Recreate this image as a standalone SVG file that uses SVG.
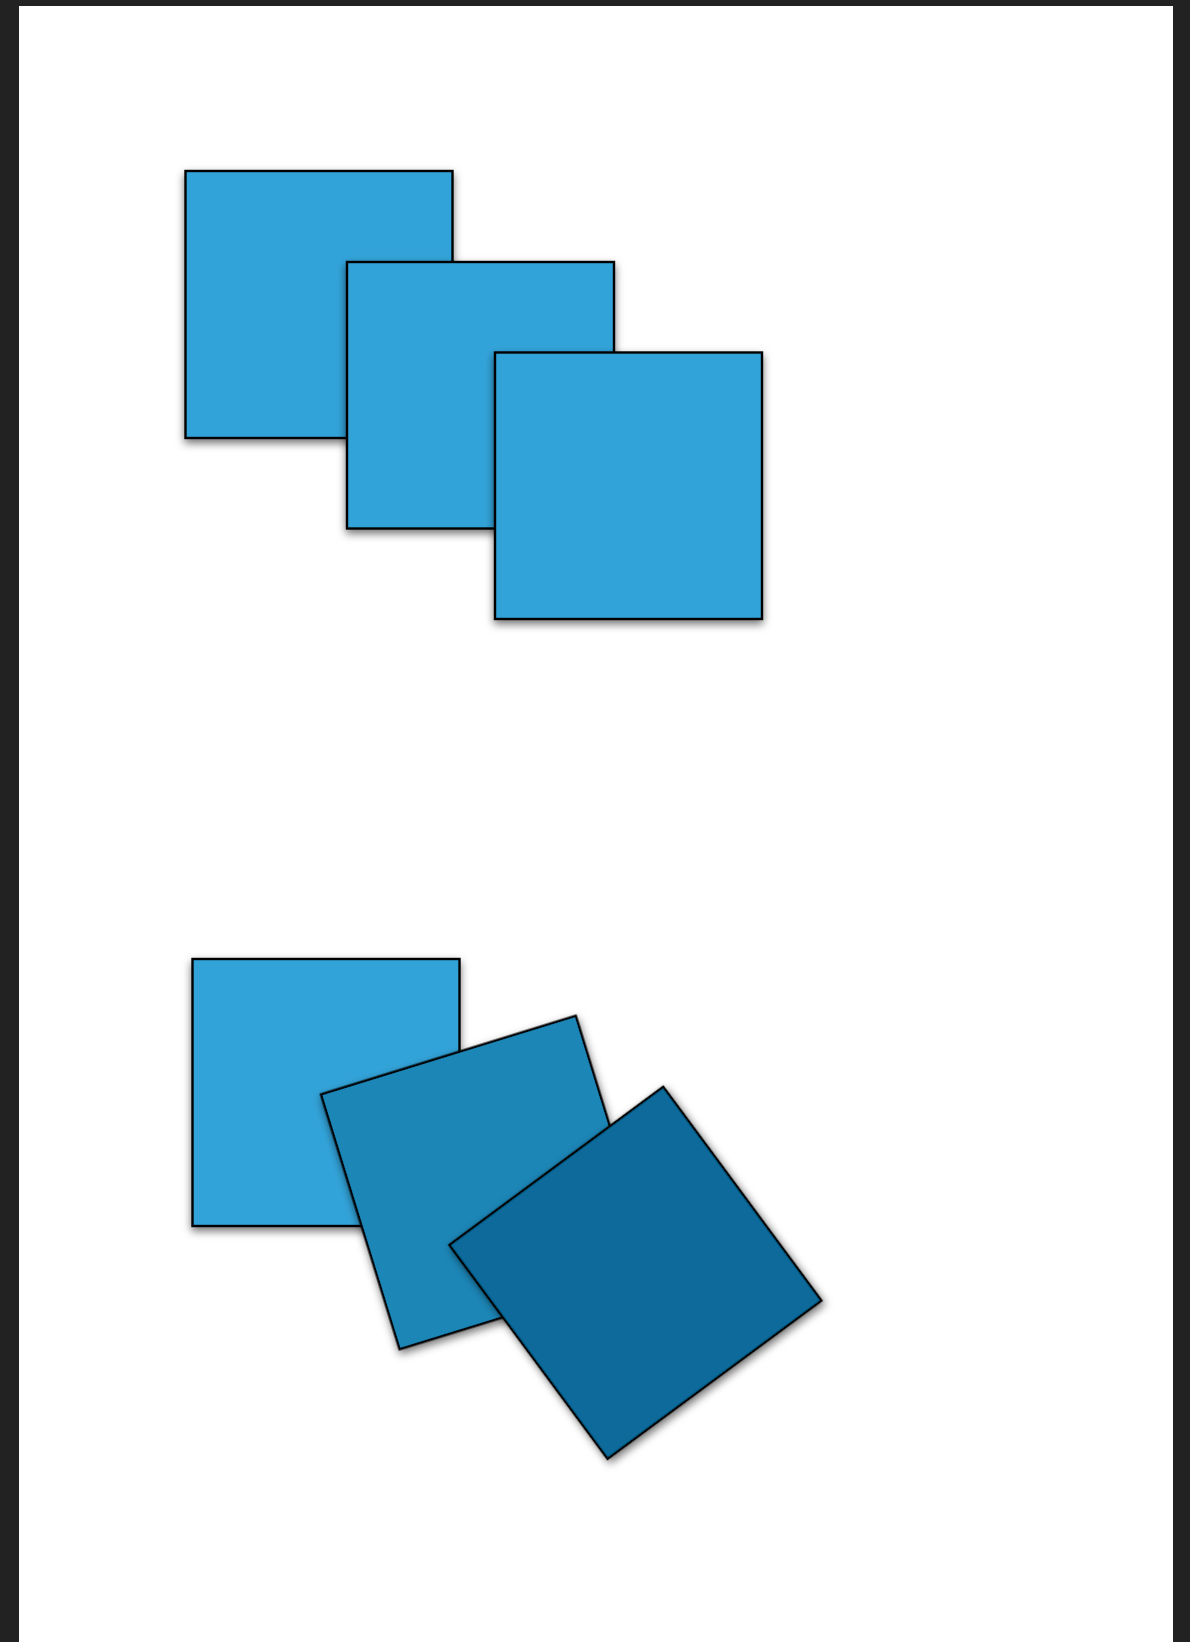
<svg xmlns="http://www.w3.org/2000/svg" width="1190" height="1642" viewBox="0 0 1190 1642">
<defs>
<filter id="sh" x="-10%" y="-10%" width="120%" height="120%">
<feDropShadow dx="0" dy="4" stdDeviation="4" flood-color="#000" flood-opacity="0.55"/>
</filter>
</defs>
<style>
.sq{stroke:#000;stroke-width:2.4;filter:url(#sh)}
.c1{fill:#33A3D9}
.c2{fill:#1D86B7}
.c3{fill:#076A9B}
</style>
<rect x="0" y="0" width="1190" height="1642" fill="#222222"/>
<rect x="19" y="6" width="1154" height="1636" fill="#FFFFFF"/>
<g id="square-1"><rect class="sq c1" x="185.5" y="171" width="267" height="267"/></g>
<g id="square-2"><rect class="sq c1" x="347" y="262" width="267" height="266.5"/></g>
<g id="square-3"><rect class="sq c1" x="495" y="352.5" width="267" height="266.5"/></g>
<g id="square-4"><rect class="sq c1" x="192.5" y="959" width="267" height="267"/></g>
<g id="square-5"><rect class="sq c2" x="-133.3" y="-133.3" width="266.6" height="266.6" transform="translate(487.7 1182.5) rotate(-17.15)"/></g>
<g id="square-6"><rect class="sq c3" x="-133" y="-133" width="266" height="266" transform="translate(635.4 1272.8) rotate(-36.5)"/></g>
</svg>
